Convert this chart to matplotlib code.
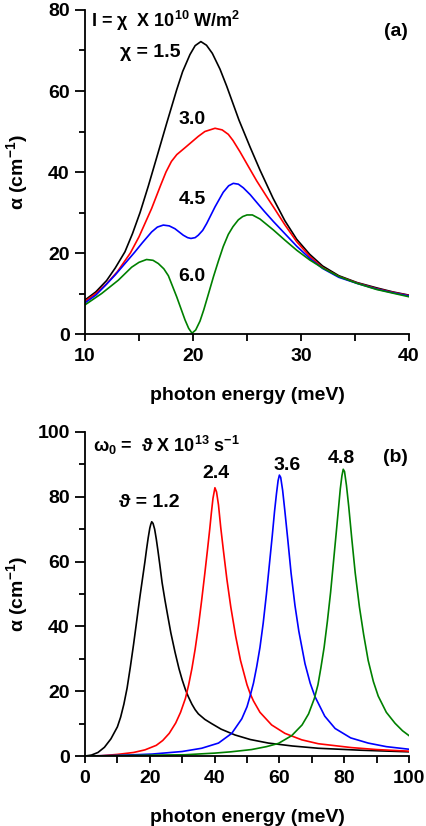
import matplotlib as mpl
import matplotlib.pyplot as plt
from matplotlib.ticker import MultipleLocator

mpl.rcParams.update({
    'font.family': ['Liberation Sans', 'DejaVu Sans'],
    'font.weight': 'bold',
    'font.size': 14,
    'mathtext.default': 'regular',
    'axes.linewidth': 1.3,
    'xtick.direction': 'out',
    'ytick.direction': 'out',
    'xtick.major.width': 1.3,
    'ytick.major.width': 1.3,
    'xtick.minor.width': 1.3,
    'ytick.minor.width': 1.3,
})

# ---- panel (a): alpha vs photon energy, I = chi x 10^10 W/m^2 ----
a_x_15 = [10, 11, 12, 12.8, 13.7, 14.4, 15.1, 15.86, 16.63, 17.56, 18.49, 19.04, 19.72, 20.2,
          20.73, 21.25, 21.79, 22.5, 23.12, 24.26, 25.28, 26.2, 27.4, 28.5, 29.6, 30.8, 32,
          33.5, 35.2, 37, 38.5, 40]
a_y_15 = [8.4, 10.4, 13.2, 16.3, 20.3, 24.8, 30.0, 36.5, 43.5, 52.0, 60.3, 64.8, 69.0, 71.2,
          72.2, 71.3, 69.3, 65.4, 61.2, 52.8, 46.2, 40.5, 33.6, 28.0, 23.4, 19.7, 16.8,
          14.4, 12.7, 11.4, 10.4, 9.6]

a_x_30 = [10, 11, 12, 13, 14.2, 15, 16.17, 17.0, 17.5, 18.0, 18.5, 19.26, 20.49, 21.1, 22.04,
          22.7, 23.27, 23.7, 24.35, 25.1, 25.9, 26.9, 27.44, 28.5, 29.6, 30.8, 32, 33.5, 35.2,
          37, 38.5, 40]
a_y_30 = [8.1, 10.0, 12.4, 15.4, 20.0, 24.0, 31.0, 36.7, 40.0, 42.6, 44.3, 46.0, 48.8, 50.0, 50.8,
          50.4, 49.3, 47.8, 45.0, 41.5, 37.8, 33.6, 31.4, 27.0, 22.8, 19.2, 16.4, 14.2, 12.6,
          11.2, 10.3, 9.5]

a_x_45 = [10, 11, 11.85, 12.8, 13.7, 14.6, 15.3, 16.17, 16.7, 17.25, 17.8, 18.33, 19.1, 19.5,
          19.81, 20.2, 20.49, 20.9, 21.27, 22.04, 22.8, 23.3, 23.73, 24.2, 24.66, 25.3, 25.9,
          26.6, 27.44, 28.5, 29.6, 30.8, 32, 33.5, 35.2, 37, 38.5, 40]
a_y_45 = [7.7, 9.6, 11.9, 14.6, 17.4, 20.2, 22.5, 25.2, 26.4, 26.9, 26.7, 26.0, 24.4, 23.8,
          23.6, 23.8, 24.4, 25.6, 27.3, 31.4, 35.0, 36.6, 37.2, 37.0, 36.1, 34.4, 32.5,
          30.3, 27.8, 24.8, 21.7, 18.7, 16.2, 14.0, 12.5, 11.1, 10.2, 9.4]

a_x_60 = [10, 11.54, 13.09, 14.32, 15.0, 15.7, 16.3, 16.79, 17.3, 17.72, 18.49, 19.26, 19.6,
          19.91, 20.25, 20.65, 21.0, 21.42, 21.9, 22.35, 22.8, 23.27, 23.7, 24.2, 24.6, 25.0,
          25.5, 26.2, 27.44, 28.5, 29.6, 30.8, 32, 33.5, 35.2, 37, 38.5, 40]
a_y_60 = [7.2, 10.0, 13.3, 16.5, 17.7, 18.4, 18.2, 17.4, 16.1, 14.4, 9.2, 3.5, 1.4,
          0.2, 1.0, 3.2, 6.0, 9.8, 14.2, 18.0, 21.6, 24.6, 26.5, 28.2, 29.0, 29.4,
          29.4, 28.4, 25.7, 23.2, 20.7, 18.3, 16.3, 14.2, 12.5, 11.0, 10.1, 9.2]

# ---- panel (b): alpha vs photon energy, omega_0 = theta x 10^13 s^-1 ----
b_x_12 = [0, 2, 4, 6, 8, 10, 11, 12, 13, 14, 15, 16, 16.5, 17, 18, 18.5, 19, 19.5, 20, 20.3,
          20.6, 21, 21.5, 22, 22.5, 23.1, 23.8, 24.7, 25.5, 26.5, 27.8, 29, 30, 31, 31.9, 33,
          34, 35, 37, 39.1, 42, 46.3, 51, 56.6, 64, 72, 85, 100]
b_y_12 = [0, 0.3, 1.1, 2.7, 5.3, 9.0, 12.0, 16.0, 21.0, 27.5, 34.5, 42.0, 45.8, 49.5, 56.5,
          60.0, 63.8, 67.3, 70.3, 71.5, 72.3, 71.8, 70.0, 67.0, 63.5, 59.0, 53.5, 48.0, 43.5,
          38.0, 32.0, 27.0, 23.5, 20.5, 18.3, 16.0, 14.3, 13.0, 11.3, 10.0, 8.3, 6.5, 5.1,
          4.0, 3.1, 2.4, 1.8, 1.3]

b_x_24 = [0, 5, 10, 15, 18.5, 22, 24, 26, 28, 29.5, 31, 32, 33, 34, 35, 36, 37, 37.8, 38.5,
          39, 39.5, 40.1, 40.6, 41.2, 41.9, 42.7, 43.8, 45, 46.5, 48, 50, 51, 52, 54, 57.6,
          61.7, 66.9, 72, 82.3, 90, 100]
b_y_24 = [0, 0.1, 0.5, 1.1, 1.9, 3.3, 4.8, 7.0, 10.2, 13.5, 17.8, 22.0, 27.0, 33.0, 40.0,
          48.0, 56.5, 63.6, 70.0, 75.0, 79.5, 82.8, 81.5, 77.5, 70.5, 63.6, 54.5, 46.0, 37.0,
          29.5, 22.0, 19.2, 17.0, 13.5, 9.6, 7.0, 5.0, 3.8, 2.6, 2.0, 1.5]

b_x_36 = [0, 10, 20.6, 30, 36, 41.2, 45.3, 48.4, 50, 50.9, 52, 53, 54, 55, 56, 57, 57.8, 58.5,
          59.1, 59.6, 60, 60.4, 61, 61.7, 62.6, 63.6, 64.8, 66, 67.9, 69.5, 71, 74, 77.2, 82,
          87.4, 93, 100]
b_y_36 = [0, 0.2, 0.6, 1.4, 2.4, 4.0, 7.0, 11.5, 15.2, 18.3, 22.5, 27.6, 33.5, 41.0, 50.0,
          60.0, 68.0, 75.5, 81.0, 85.0, 86.7, 86.0, 82.0, 75.5, 66.7, 56.5, 46.5, 38.5, 28.5,
          22.5, 18.3, 12.3, 8.5, 5.6, 4.0, 2.9, 2.1]

b_x_48 = [0, 15, 30.9, 40, 45, 51.4, 56, 59.7, 63.8, 67, 69, 70.8, 71.9, 72.8, 73.8, 74.8,
          75.8, 76.7, 77.5, 78.2, 78.8, 79.3, 79.7, 80.1, 80.7, 81.4, 82.3, 83.4, 84.7, 86,
          87.4, 89, 90.5, 93, 95.7, 98, 100]
b_y_48 = [0, 0.2, 0.4, 0.9, 1.3, 2.0, 2.9, 3.9, 6.3, 9.6, 13.0, 17.8, 22.0, 27.2, 33.5, 41.5,
          50.5, 60.0, 68.5, 76.0, 82.5, 86.5, 88.5, 87.8, 83.5, 77.0, 67.5, 56.5, 46.0, 37.5,
          29.5, 23.0, 18.5, 13.5, 10.1, 7.8, 6.3]

colors = ['black', 'red', 'blue', 'green']

fig = plt.figure(figsize=(4.26, 8.26), dpi=100)
ax1 = fig.add_axes([0.1995, 0.5956, 0.7606, 0.3923])
ax2 = fig.add_axes([0.1995, 0.0847, 0.7606, 0.3923])

for (xs, ys), c in zip([(a_x_15, a_y_15), (a_x_30, a_y_30), (a_x_45, a_y_45), (a_x_60, a_y_60)], colors):
    ax1.plot(xs, ys, color=c, lw=1.2)
for (xs, ys), c in zip([(b_x_12, b_y_12), (b_x_24, b_y_24), (b_x_36, b_y_36), (b_x_48, b_y_48)], colors):
    ax2.plot(xs, ys, color=c, lw=1.2)

for ax in (ax1, ax2):
    ax.spines['top'].set_visible(False)
    ax.spines['right'].set_visible(False)
    ax.tick_params(which='major', axis='y', length=7, pad=4)
    ax.tick_params(which='minor', axis='y', length=4)
    ax.tick_params(which='both', axis='x', length=5, pad=5)
    ax.tick_params(labelsize=14)
    for lab in ax.get_xticklabels() + ax.get_yticklabels():
        lab.set_fontweight('bold')
    ax.set_xlabel('photon energy (meV)', fontsize=14, fontweight='bold', labelpad=16)
    ax.set_ylabel('α (cm$^{-1}$)', fontsize=14, fontweight='bold')
    ax.yaxis.set_label_coords(-0.17, 0.5)

ax1.set_xlim(10, 40)
ax1.set_ylim(0, 80)
ax1.xaxis.set_major_locator(MultipleLocator(10))
ax1.xaxis.set_minor_locator(MultipleLocator(5))
ax1.yaxis.set_major_locator(MultipleLocator(20))
ax1.yaxis.set_minor_locator(MultipleLocator(10))

ax2.set_xlim(0, 100)
ax2.set_ylim(0, 100)
ax2.xaxis.set_major_locator(MultipleLocator(20))
ax2.xaxis.set_minor_locator(MultipleLocator(10))
ax2.yaxis.set_major_locator(MultipleLocator(20))
ax2.yaxis.set_minor_locator(MultipleLocator(10))

# annotations, panel (a)
ax1.text(10.6, 77.3, 'I = χ  X 10$^{10}$ W/m$^{2}$', fontsize=13, fontweight='bold', va='center')
ax1.text(13.2, 69.4, 'χ = 1.5', fontsize=14, fontweight='bold', va='center')
ax1.text(19.9, 53.0, '3.0', fontsize=14, fontweight='bold', va='center', ha='center')
ax1.text(19.9, 33.3, '4.5', fontsize=14, fontweight='bold', va='center', ha='center')
ax1.text(19.9, 14.3, '6.0', fontsize=14, fontweight='bold', va='center', ha='center')
ax1.text(39.9, 74.6, '(a)', fontsize=14, fontweight='bold', va='center', ha='right')

# annotations, panel (b)
ax2.text(2.5, 96.0, 'ω$_0$ =  ϑ X 10$^{13}$ s$^{-1}$', fontsize=13, fontweight='bold', va='center')
ax2.text(19.8, 78.1, 'ϑ = 1.2', fontsize=14, fontweight='bold', va='center', ha='center')
ax2.text(40.4, 87.3, '2.4', fontsize=14, fontweight='bold', va='center', ha='center')
ax2.text(62.5, 89.8, '3.6', fontsize=14, fontweight='bold', va='center', ha='center')
ax2.text(79.2, 91.7, '4.8', fontsize=14, fontweight='bold', va='center', ha='center')
ax2.text(99.8, 92.0, '(b)', fontsize=14, fontweight='bold', va='center', ha='right')

plt.savefig('out.png', dpi=100)
